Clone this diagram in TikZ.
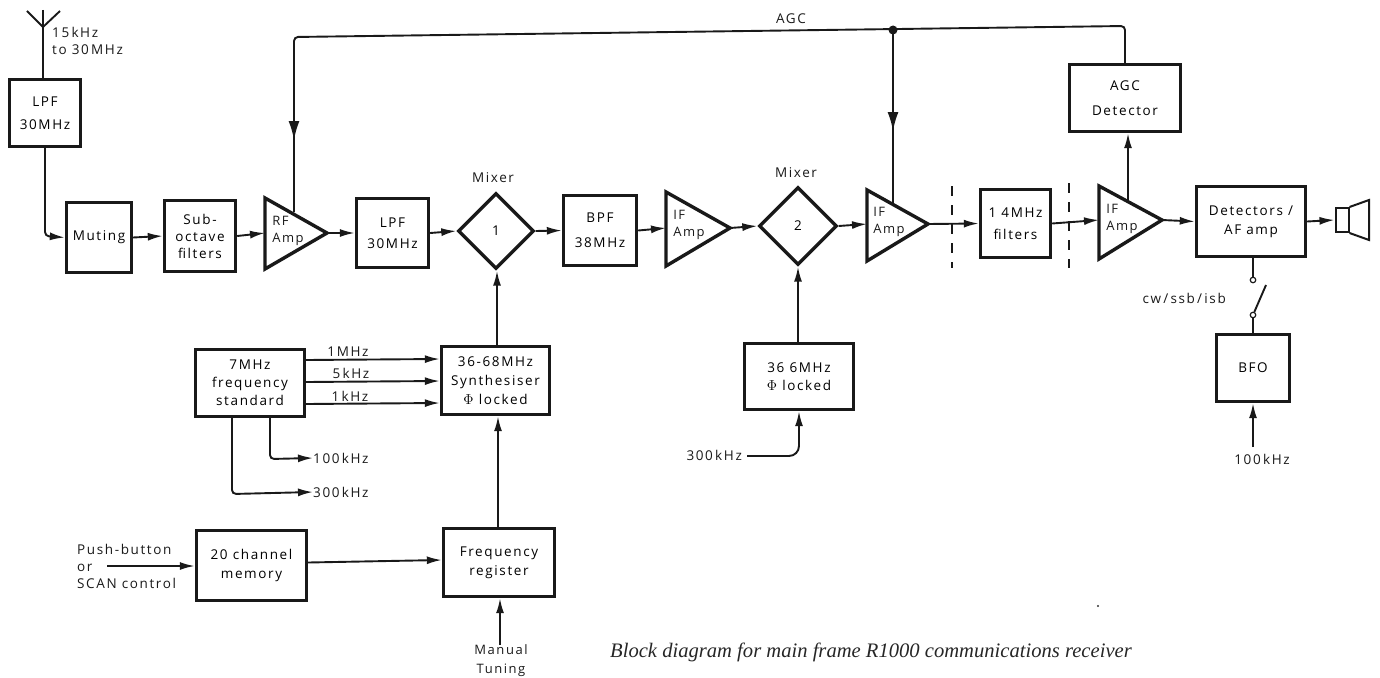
\documentclass[tikz,border=0pt]{standalone}
\usepackage{fontspec}
\setmainfont[LetterSpace=12]{Open Sans}
\newfontfamily\capfont{Liberation Serif}
\usetikzlibrary{arrows.meta,shapes.geometric,calc}
\tikzset{
  sp/.style={font=\fontsize{13.5}{#1}\selectfont},
  bx/.style={draw=black!90,line width=3.4pt,align=center,inner sep=0pt,sp=21},
  dia/.style={diamond,draw=black!90,line width=3.4pt,inner sep=0pt,aspect=1,sp=14},
  lbl/.style={inner sep=0pt,align=left,text=black!90,sp=17},
  amplbl/.style={lbl,font=\fontsize{13}{17}\selectfont},
  wire/.style={draw=black!90,line width=1.9pt,rounded corners=4pt},
  arr/.style={wire,-{Latex[length=15pt,width=8pt]}},
  bigarr/.style={wire,-{Latex[length=19pt,width=11pt]}},
  tri/.style={draw=black!90,line width=3.4pt,line join=miter},
  dsh/.style={draw=black!90,line width=1.2pt,dash pattern=on 10pt off 9pt},
}
\newcommand{\amp}[6]{% name, left x, top y, bottom y, tip x, tip y
  \coordinate (#1-a) at (#2,#3);
  \coordinate (#1-b) at (#2,#4);
  \coordinate (#1-out) at (#5,#6);
  \coordinate (#1-in) at (#2,#6);
  \draw[tri] (#1-a) -- (#1-out) -- (#1-b) -- cycle;
}
\newcommand{\boxat}[7][sp=21]{% style, name, x0, y0, x1, y1, text
  \node[bx,#1,minimum width=#5pt-#3pt-3pt,minimum height=#6pt-#4pt-3pt] (#2) at ({(#3+#5)/2},{(#4+#6)/2}) {#7};
}
\begin{document}
\begin{tikzpicture}[x=1pt,y=-1pt]
\useasboundingbox (0,0) rectangle (1380,677);
% antenna
\coordinate (antT) at (43,27);
\coordinate (antL) at (27,11);
\coordinate (antR) at (60,11);
\coordinate (antM) at (43,10);
\draw[wire,rounded corners=0pt] (antL) -- (antT) -- (antR);
\boxat[sp=23]{lpfa}{8}{78}{82}{148}{LPF\\30MHz}
\draw[wire] (antM) -- (lpfa.north -| antM);
\node[lbl,anchor=north west] (ant) at (52,27) {15\,kHz\\to 30\,MHz};
\boxat{mut}{65}{201}{133}{274}{Muting}
\boxat[sp=17]{sub}{163}{199}{237}{273}{Sub-\\octave\\filters}
\amp{rf}{265}{198}{269}{327}{233}
\node[amplbl] (rft) at (288,231) {RF\\Amp};
\boxat{lpfb}{355}{197}{430}{269}{LPF\\30MHz}
\node[dia,minimum width=76pt,minimum height=76pt] (mx1) at (496,231) {1};
\node[lbl] (mx1t) at (493,178) {Mixer};
\boxat[sp=25]{bpf}{562}{194}{638}{267}{BPF\\38MHz}
\amp{ifa}{666}{192}{266}{730}{228}
\node[amplbl] (ifat) at (689,225) {IF\\Amp};
\node[dia,minimum width=78pt,minimum height=78pt] (mx2) at (798,226) {2};
\node[lbl] (mx2t) at (796,173) {Mixer};
\amp{ifb}{867}{190}{261}{928}{224}
\node[amplbl] (ifbt) at (889,222) {IF\\Amp};
\boxat[sp=22]{fil}{979}{188}{1052}{259}{1 4MHz\\filters}
\amp{ifc}{1099}{186}{259}{1162}{220}
\node[amplbl] (ifct) at (1122,219) {IF\\Amp};
\boxat[sp=19]{det}{1195}{185}{1307}{258}{Detectors /\\AF amp}
\boxat[sp=25]{agc}{1068}{63}{1182}{133}{AGC\\Detector}
% speaker
\node[draw=black!90,line width=2pt,minimum width=13pt,minimum height=24pt,inner sep=0pt] (spk) at (1342,220) {};
\coordinate (spkA) at (1369,200);
\coordinate (spkB) at (1369,240);
\draw[draw=black!90,line width=2pt] (spk.north east) -- (spkA) -- (spkB) -- (spk.south east);
% lower boxes
\boxat[sp=18]{std}{194}{348}{306}{418}{7MHz\\frequency\\standard}
\boxat[sp=19]{syn}{440}{345}{551}{416}{36-68MHz\\Synthesiser\\$\Phi$ locked}
\boxat[sp=18]{loc}{743}{342}{855}{411}{36 6MHz\\$\Phi$ locked}
\boxat{bfo}{1215}{333}{1291}{403}{BFO}
\boxat[sp=19]{mem}{195}{529}{308}{602}{20 channel\\memory}
\boxat[sp=19]{reg}{442}{527}{556}{598}{Frequency\\register}
% main chain
\draw[arr] (lpfa.south -| 45,0) -- (45,236) -- (mut.west);
\draw[arr] (mut.east) -- (sub.west);
\draw[arr] (sub.east) -- (rf-in);
\draw[arr] (rf-out) -- (lpfb.west);
\draw[arr] (lpfb.east) -- (mx1.west);
\draw[arr] (mx1.east) -- (bpf.west);
\draw[arr] (bpf.east) -- (ifa-in);
\draw[arr] (ifa-out) -- (mx2.west);
\draw[arr] (mx2.east) -- (ifb-in);
\draw[arr] (ifb-out) -- (fil.west);
\draw[arr] (fil.east) -- (ifc-in);
\draw[arr] (ifc-out) -- (det.west);
\draw[arr] (det.east) -- (spk.west);
% AGC
\coordinate (rfTop) at (294,37);
\coordinate (rfMid) at (294,140);
\coordinate (rfSlope) at (294,212);
\coordinate (junc) at (893,30);
\coordinate (ifbMid) at (893,131);
\coordinate (ifbSlope) at (893,204);
\coordinate (agcTop) at (1125,26);
\draw[wire] (agc.north -| agcTop) -- (agcTop) -- (rfTop) -- (rfSlope);
\draw[bigarr] (rfTop) ++(0,20) -- (rfMid);
\draw[wire] (junc) -- (ifbSlope);
\draw[bigarr] (junc) -- (ifbMid);
\fill[black!90] (junc) circle (4.5pt);
\node[lbl] (agct) at (791,19) {AGC};
\draw[arr] (1128,203) -- (agc.south -| 1128,0);
% dashes
\coordinate (d1a) at (952,186);
\coordinate (d1b) at (952,268);
\coordinate (d2a) at (1069,183);
\coordinate (d2b) at (1069,268);
\draw[dsh] (d1a) -- (d1b);
\draw[dsh] (d2a) -- (d2b);
% vertical feeds
\draw[arr] (syn.north -| 497,0) -- (mx1.south -| 497,0);
\draw[arr] (reg.north -| 498,0) -- (syn.south -| 498,0);
\draw[arr] (loc.north -| mx2) -- (mx2.south);
\coordinate (k300) at (747,456);
\node[lbl,anchor=east] (k300t) at (742,455) {300\,kHz};
\draw[arr,rounded corners=10pt] (k300) -- (799,456) -- (loc.south -| 799,0);
% standard
\draw[arr] ($(std.east)+(0,-23)$) -- ($(syn.west)+(0,-21.5)$);
\draw[arr] ($(std.east)+(0,-1)$) -- ($(syn.west)+(0,0.5)$);
\draw[arr] ($(std.east)+(0,21)$) -- ($(syn.west)+(0,22.5)$);
\node[lbl] (m1) at (348,352) {1MHz};
\node[lbl] (k5) at (351,373) {5\,kHz};
\node[lbl] (k1) at (350,396) {1\,kHz};
\node[lbl,anchor=west] (k100t) at (313,458) {100\,kHz};
\node[lbl,anchor=west] (k300b) at (313,492) {300\,kHz};
\draw[arr] (std.south -| 270,0) -- (270,459) -- (k100t.west);
\draw[arr] (std.south -| 232,0) -- (232,494) -- (k300b.west);
\draw[arr] ($(mem.east)+(0,-3)$) -- ($(reg.west)+(0,-2.5)$);
\node[lbl,anchor=west] (push) at (77,566) {Push-button\\or\\SCAN control};
\coordinate (pushS) at (107,566);
\draw[arr] (pushS) -- (mem.west |- pushS);
\node[lbl,align=center,font=\fontsize{13}{19}\selectfont] (man) at (501,661) {Manual\\Tuning};
\coordinate (manS) at (500,645);
\draw[arr] (manS) -- (reg.south -| manS);
% BFO + switch
\node[circle,draw=black!90,line width=1.2pt,minimum size=5.5pt,inner sep=0pt] (sw1) at (1253,280) {};
\node[circle,draw=black!90,line width=1.2pt,minimum size=5.5pt,inner sep=0pt] (sw2) at (1253,315) {};
\coordinate (blade) at (1266,285);
\draw[wire] (det.south -| sw1) -- (sw1);
\draw[wire] (sw2) -- (bfo.north -| sw2);
\draw[wire] (sw2) -- (blade);
\node[lbl,anchor=east] (cw) at (1226,298) {cw\,/\,ssb\,/\,isb};
\node[lbl] (k100b) at (1262,459) {100\,kHz};
\coordinate (k100s) at (1253,447);
\draw[arr] (k100s) -- (bfo.south -| k100s);
% caption
\node[inner sep=0pt,anchor=west,text=black!85] (cap) at (610,652) {\capfont\itshape\fontsize{20.6}{22}\selectfont Block diagram for main frame R1000 communications receiver};
\fill[black!80] (1098,606) circle (1.2pt);
\end{tikzpicture}
\end{document}
